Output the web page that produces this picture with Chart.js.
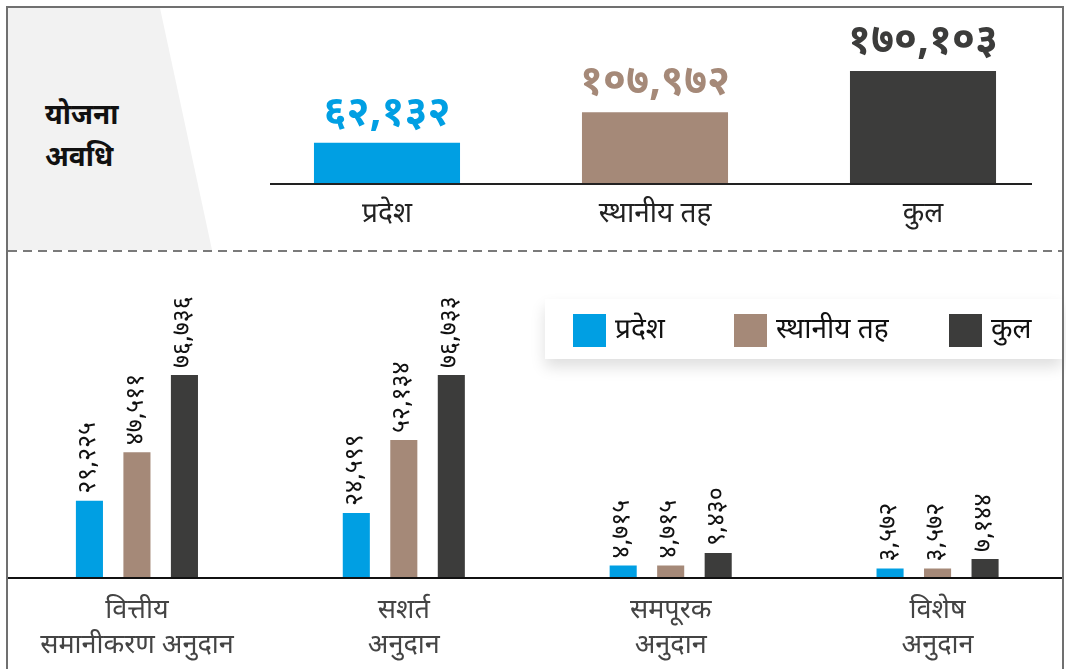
<!DOCTYPE html>
<html>
<head>
<meta charset="utf-8">
<script src="https://cdn.jsdelivr.net/npm/chart.js@4.4.1/dist/chart.umd.min.js"></script>
<style>
  body {
    margin: 0;
    width: 1066px;
    height: 669px;
    overflow: hidden;
    background: #fff;
    position: relative;
    font-family: "Noto Sans Devanagari", "Noto Sans", sans-serif;
  }
  #frame {
    position: absolute; left: 6px; top: 6px; width: 1058px; height: 720px;
    border: 2px solid #707070; box-sizing: border-box;
  }
  #band {
    position: absolute; left: 8px; top: 8px; width: 210px; height: 242px;
    background: #f2f2f2;
    clip-path: polygon(0 0, 152px 0, 204px 242px, 0 242px);
  }
  #period {
    position: absolute; left: 45px; top: 96px;
    font-size: 28px; font-weight: bold; line-height: 42px; color: #111;
  }
  #dash {
    position: absolute; left: 8px; top: 250px; width: 1054px; height: 2px;
    background: repeating-linear-gradient(to right, #7a7a7a 0 9px, transparent 9px 15px);
  }
  #topBase { position: absolute; left: 270px; top: 183px; width: 762px; height: 2px; background: #222; }
  #bottomBase { position: absolute; left: 8px; top: 577px; width: 1054px; height: 2px; background: #111; }
  #topCanvas { position: absolute; left: 240px; top: 0; }
  #bottomCanvas { position: absolute; left: -2px; top: 255px; }
  #legend {
    position: absolute; left: 545px; top: 299px; width: 517px; height: 60px;
    background: #fff; box-shadow: 0 8px 14px rgba(0,0,0,0.13);
  }
  .item { position: absolute; top: 14px; font-size: 28px; line-height: 36px; color: #111; }
  .sw { position: absolute; top: 15px; width: 33px; height: 33px; }
</style>
</head>
<body>
<div id="band"></div>
<div id="period">योजना<br>अवधि</div>
<div id="dash"></div>
<canvas id="topCanvas" width="830" height="250"></canvas>
<div id="topBase"></div>
<canvas id="bottomCanvas" width="1076" height="414"></canvas>
<div id="bottomBase"></div>
<div id="legend"></div>
<div id="frame"></div>

<script>
// plan period totals
let periodLabels = ["प्रदेश", "स्थानीय तह", "कुल"];
let periodValues = [62132, 107972, 170103];

// grants by type
let grantLabels = [["वित्तीय", "समानीकरण अनुदान"], ["सशर्त", "अनुदान"], ["समपूरक", "अनुदान"], ["विशेष", "अनुदान"]];
let provinceValues = [29225, 24599, 4715, 3572];
let localValues = [47511, 52134, 4715, 3572];
let totalValues = [76736, 76733, 9430, 7144];

let seriesNames = ["प्रदेश", "स्थानीय तह", "कुल"];
let colors = ["#009fe3", "#a58978", "#3c3c3b"];

const fontFamily = '"Noto Sans Devanagari", "Noto Sans", sans-serif';
const devDigits = "०१२३४५६७८९";

function toNepali(n) {
  return n.toLocaleString("en-US").replace(/[0-9]/g, (d) => devDigits[d]);
}

// top chart: values and names drawn around each bar
const topLabels = {
  id: "topLabels",
  afterDatasetsDraw(chart) {
    const ctx = chart.ctx;
    const meta = chart.getDatasetMeta(0);
    ctx.save();
    ctx.textAlign = "center";
    meta.data.forEach((bar, i) => {
      ctx.fillStyle = colors[i];
      ctx.font = "bold 41px " + fontFamily;
      ctx.textBaseline = "alphabetic";
      ctx.fillText(toNepali(periodValues[i]), bar.x, bar.y - 18);
      ctx.fillStyle = "#222";
      ctx.font = "28px " + fontFamily;
      ctx.textBaseline = "middle";
      ctx.fillText(periodLabels[i], bar.x, 217);
    });
    ctx.restore();
  },
};

new Chart(document.getElementById("topCanvas"), {
  type: "bar",
  data: {
    labels: periodLabels,
    datasets: [
      {
        data: periodValues,
        backgroundColor: colors,
        barPercentage: 0.545,
        categoryPercentage: 1,
      },
    ],
  },
  options: {
    responsive: false,
    animation: false,
    devicePixelRatio: 1,
    layout: { padding: { left: 13, right: 13, top: 40, bottom: 66 } },
    plugins: { legend: { display: false }, tooltip: { enabled: false } },
    scales: {
      x: { display: false },
      y: { display: false, min: 0, max: 217000 },
    },
  },
  plugins: [topLabels],
});

// bottom chart: rotated values over bars, two-line category names under axis
const bottomLabels = {
  id: "bottomLabels",
  afterDatasetsDraw(chart) {
    const ctx = chart.ctx;
    ctx.save();
    ctx.fillStyle = "#111";
    ctx.font = "25px " + fontFamily;
    chart.data.datasets.forEach((ds, d) => {
      chart.getDatasetMeta(d).data.forEach((bar, i) => {
        ctx.save();
        ctx.translate(bar.x + 1, bar.y - 7);
        ctx.rotate(-Math.PI / 2);
        ctx.textAlign = "left";
        ctx.textBaseline = "middle";
        ctx.fillText(toNepali(ds.data[i]), 0, 0);
        ctx.restore();
      });
    });
    const xScale = chart.scales.x;
    ctx.fillStyle = "#444";
    ctx.font = "27px " + fontFamily;
    ctx.textAlign = "center";
    ctx.textBaseline = "middle";
    grantLabels.forEach((lines, i) => {
      const x = xScale.getPixelForValue(i);
      lines.forEach((line, j) => {
        ctx.fillText(line, x, 358 + j * 35);
      });
    });
    ctx.restore();
  },
};

new Chart(document.getElementById("bottomCanvas"), {
  type: "bar",
  data: {
    labels: grantLabels.map((l) => l.join(" ")),
    datasets: [provinceValues, localValues, totalValues].map((vals, i) => ({
      label: seriesNames[i],
      data: vals,
      backgroundColor: colors[i],
      barPercentage: 0.57,
      categoryPercentage: 0.534,
    })),
  },
  options: {
    responsive: false,
    animation: false,
    devicePixelRatio: 1,
    layout: { padding: { left: 5.5, right: 3, top: 40, bottom: 91 } },
    plugins: { legend: { display: false }, tooltip: { enabled: false } },
    scales: {
      x: { display: false },
      y: { display: false, min: 0, max: 107000 },
    },
  },
  plugins: [bottomLabels],
});

// legend
let legend = document.getElementById("legend");
let swatchX = [28, 189, 404];
seriesNames.forEach((name, i) => {
  let sw = document.createElement("div");
  sw.className = "sw";
  sw.style.left = swatchX[i] + "px";
  sw.style.background = colors[i];
  legend.appendChild(sw);
  let txt = document.createElement("div");
  txt.className = "item";
  txt.style.left = swatchX[i] + 42 + "px";
  txt.innerText = name;
  legend.appendChild(txt);
});
</script>
</body>
</html>
